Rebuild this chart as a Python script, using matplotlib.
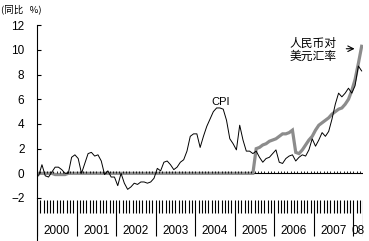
import matplotlib
matplotlib.use("Agg")
from matplotlib import pyplot as plt
import numpy as np

plt.rcParams['font.family'] = ['Liberation Sans', 'Noto Sans CJK SC', 'DejaVu Sans']

# CPI 同比 (%), 2000年1月 - 2008年3月
cpi_2000 = [-0.2, 0.7, -0.2, -0.3, 0.1, 0.5, 0.5, 0.3, 0.0, 0.0, 1.3, 1.5]
cpi_2001 = [1.2, 0.0, 0.8, 1.6, 1.7, 1.4, 1.5, 1.0, -0.1, 0.2, -0.3, -0.3]
cpi_2002 = [-1.0, 0.0, -0.8, -1.3, -1.1, -0.8, -0.9, -0.7, -0.7, -0.8, -0.7, -0.4]
cpi_2003 = [0.4, 0.2, 0.9, 1.0, 0.7, 0.3, 0.5, 0.9, 1.1, 1.8, 3.0, 3.2]
cpi_2004 = [3.2, 2.1, 3.0, 3.8, 4.4, 5.0, 5.3, 5.3, 5.2, 4.3, 2.8, 2.4]
cpi_2005 = [1.9, 3.9, 2.7, 1.8, 1.8, 1.6, 1.8, 1.3, 0.9, 1.2, 1.3, 1.6]
cpi_2006 = [1.9, 0.9, 0.8, 1.2, 1.4, 1.5, 1.0, 1.3, 1.5, 1.4, 1.9, 2.8]
cpi_2007 = [2.2, 2.7, 3.3, 3.0, 3.4, 4.4, 5.6, 6.5, 6.2, 6.5, 6.9, 6.5]
cpi_2008 = [7.1, 8.7, 8.3]
cpi = (cpi_2000 + cpi_2001 + cpi_2002 + cpi_2003 + cpi_2004
       + cpi_2005 + cpi_2006 + cpi_2007 + cpi_2008)

# 人民币对美元汇率 同比 (%)
fx_2000 = [0.0, 0.0, 0.0, 0.0, 0.0, -0.1, -0.1, -0.1, -0.1, 0.0, 0.0, 0.0]
fx_2001_2004 = [0.0] * 48
fx_2005 = [0.0, 0.0, 0.0, 0.0, 0.0, 0.0, 2.0, 2.1, 2.3, 2.4, 2.6, 2.7]
fx_2006 = [2.8, 3.0, 3.2, 3.2, 3.3, 3.5, 1.7, 1.6, 1.9, 2.3, 2.7, 3.0]
fx_2007 = [3.5, 3.9, 4.1, 4.3, 4.5, 4.8, 5.0, 5.2, 5.3, 5.6, 6.0, 6.7]
fx_2008 = [7.6, 8.9, 10.3]
fx = fx_2000 + fx_2001_2004 + fx_2005 + fx_2006 + fx_2007 + fx_2008

year_labels = ['2000', '2001', '2002', '2003', '2004', '2005', '2006', '2007', '08']

months = np.arange(len(cpi))
x = 2000 + (months + 0.5) / 12
x_end = 2008.25

fig = plt.figure(figsize=(3.69, 2.41), dpi=100)
ax = fig.add_axes([37 / 369, 43 / 241, 326.3 / 369, 172.7 / 241])
ax.set_xlim(2000, x_end)
ax.set_ylim(-2, 12)
for s in ['top', 'right', 'bottom']:
    ax.spines[s].set_visible(False)
ax.spines['left'].set_linewidth(0.8)
ax.set_xticks([])
ax.set_yticks(range(-2, 13, 2))
ax.tick_params(axis='y', direction='in', length=3, width=0.8, pad=9, labelsize=8.5)

# 0 轴和月度小刻度
ax.axhline(0, color='black', lw=0.8, zorder=1)
mticks = np.arange(2000, x_end + 1e-6, 1 / 12)
ax.vlines(mticks, 0, 0.22, color='black', lw=0.6, zorder=3)

ax.plot(x, fx, color='#8c8c8c', lw=2.3, zorder=2, solid_joinstyle='miter')
ax.plot(x, cpi, color='black', lw=0.7, zorder=4)

ax.text(2004.65, 5.75, 'CPI', fontsize=8, ha='center', va='center')
ax.text(2006.98, 10.0, '人民币对\n美元汇率', fontsize=8.5, ha='center', va='center',
        linespacing=0.95, family=['Noto Sans CJK SC'])
ax.annotate('', xy=(2008.1, 10.1), xytext=(2007.75, 10.1),
            arrowprops=dict(arrowstyle='->', lw=0.8, color='black'))

fig.text(1 / 369, 1 - 9.5 / 241, '(同比   %)', fontsize=6.8, va='center',
         family=['Noto Sans CJK SC', 'DejaVu Sans'])

# 下方的年月刻度带
bx = fig.add_axes([37 / 369, 0, 326.3 / 369, 43 / 241])
bx.set_xlim(2000, x_end)
bx.set_ylim(0, 43)
for s in ['top', 'right', 'bottom']:
    bx.spines[s].set_visible(False)
bx.spines['left'].set_linewidth(0.8)
bx.set_xticks([])
bx.set_yticks([])
bx.patch.set_alpha(0)

for t in mticks:
    if abs(t - round(t)) < 1e-6 or abs(t - x_end) < 1e-6:
        bx.vlines(t, 5, 41, color='black', lw=0.8)
    else:
        bx.vlines(t, 28, 41, color='black', lw=0.8)

centers = [2000.5 + i for i in range(8)] + [2008.125]
for c, lab in zip(centers, year_labels):
    bx.text(c, 9.5, lab, fontsize=8.5, ha='center', va='center')

fig.savefig('out.png', dpi=100)
